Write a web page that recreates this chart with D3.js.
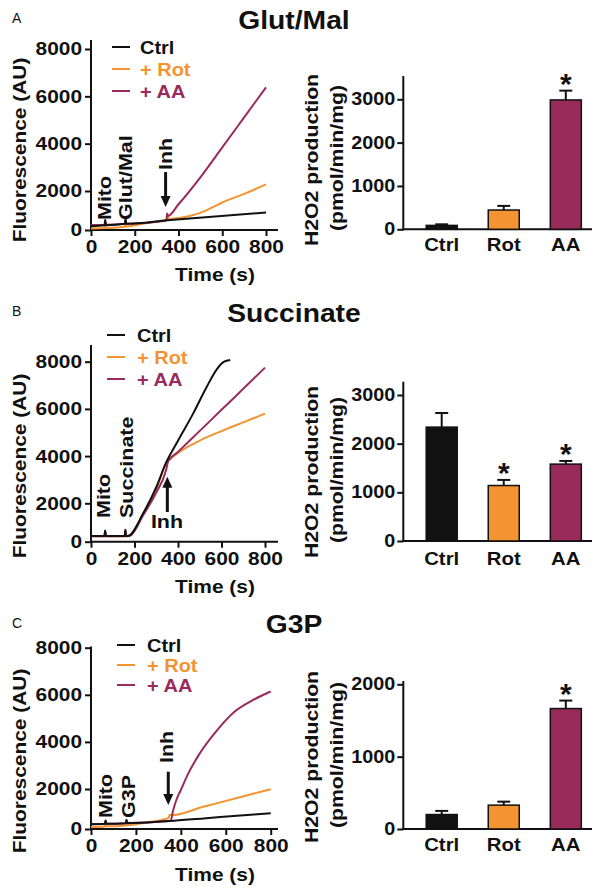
<!DOCTYPE html>
<html><head><meta charset="utf-8">
<script src="https://cdn.jsdelivr.net/npm/d3@7"></script>
<style>body{margin:0;background:#fff}</style>
</head><body>
<svg id="c" width="601" height="895"></svg>
<script>
// ---------- DATA ----------
const seriesNames = ["Ctrl", "+ Rot", "+ AA"];
const barCategories = ["Ctrl", "Rot", "AA"];
const fluorTicks = [0, 2000, 4000, 6000, 8000];
const timeTicks = [0, 200, 400, 600, 800];

// Glut/Mal traces [time s, fluorescence AU]
const glutCtrl = [[0,190],[62,240],[65,520],[68,245],[155,320],[158,620],[161,325],[350,500],[800,900]];
const glutRot  = [[0,80],[62,100],[65,330],[68,105],[155,170],[158,420],[161,180],[250,350],[345,520],[350,800],[355,560],[400,620],[450,720],[500,880],[550,1130],[600,1410],[700,1850],[800,2280]];
const glutAA   = [[0,260],[62,270],[65,450],[68,275],[155,320],[158,500],[161,325],[340,480],[345,520],[348,850],[352,720],[400,1320],[500,2580],[600,3840],[700,5110],[800,6380]];

// Succinate traces
const succCtrl = [[0,300],[62,300],[65,580],[68,300],[155,300],[158,620],[161,300],[172,310],[240,1480],[300,2680],[345,3720],[400,4650],[470,5810],[530,6900],[580,7700],[610,7990],[640,8070]];
const succRot  = [[0,290],[62,290],[65,560],[68,290],[155,290],[158,600],[161,290],[175,310],[240,1450],[300,2600],[350,3760],[370,3930],[400,4130],[450,4420],[500,4660],[600,5060],[700,5430],[800,5800]];
const succAA   = [[0,280],[62,280],[65,540],[68,280],[155,280],[158,580],[161,280],[178,300],[240,1380],[300,2450],[345,3400],[355,3780],[400,4180],[500,5070],[600,5960],[700,6850],[800,7750]];

// G3P traces
const g3pCtrl = [[0,235],[62,260],[65,420],[68,262],[155,290],[158,450],[161,292],[350,400],[500,530],[650,660],[800,790]];
const g3pRot  = [[0,100],[62,130],[65,330],[68,135],[155,180],[158,380],[161,190],[250,330],[320,470],[345,560],[350,700],[358,690],[500,1110],[650,1550],[800,1990]];
const g3pAA   = [[0,250],[62,262],[65,430],[68,265],[155,290],[158,460],[161,295],[345,400],[355,420],[365,900],[380,1450],[400,1950],[430,2600],[480,3450],[560,4480],[640,5290],[720,5770],[800,6140]];

// H2O2 production bars (pmol/min/mg)
const glutMeans = [90, 445, 2985];
const glutSem   = [25, 95, 215];
const glutSig   = [false, false, true];
const succMeans = [2340, 1140, 1580];
const succSem   = [290, 115, 65];
const succSig   = [false, true, true];
const g3pMeans  = [200, 330, 1665];
const g3pSem    = [50, 48, 110];
const g3pSig    = [false, false, true];
const barTicksA = [0, 1000, 2000, 3000];
const barTicksB = [0, 1000, 2000, 3000];
const barTicksC = [0, 1000, 2000];

// ---------- STYLE / LAYOUT ----------
const COLORS = ["#111111", "#F39331", "#992B5B"];
const FONT = '"Liberation Sans", Arial, Helvetica, sans-serif';
const K = 1.13;
const fmt = d3.format("d");

const panels = [
  { letter:"A", letterY:23, title:"Glut/Mal", titleY:29,
    series:[glutCtrl, glutRot, glutAA],
    lx:[91,266], ly:[230,191,49], lTop:40, lRight:278, fluorY:150, timeY:281,
    legend:{x1:112,x2:130,tx:140,y0:47,dy:22},
    annots:[{s:"Mito",x:111,y:220,rot:true},{s:"Glut/Mal",x:132,y:220,rot:true},{s:"Inh",x:172,y:170,rot:true}],
    arrow:{t:341, from:2800, to:1180},
    means:glutMeans, sem:glutSem, sig:glutSig, bTicks:barTicksA, bMax:3000,
    by:[229.3,99.3], bTop:76, h2oY:160, catY:251 },
  { letter:"B", letterY:316, title:"Succinate", titleY:322,
    series:[succCtrl, succRot, succAA],
    lx:[91,265], ly:[541.7,503.3,361.7], lTop:345, lRight:278, fluorY:466, timeY:593,
    legend:{x1:107,x2:125,tx:137,y0:335,dy:22},
    annots:[{s:"Mito",x:110,y:518,rot:true},{s:"Succinate",x:133,y:518,rot:true},{s:"Inh",x:167,y:528,rot:false}],
    arrow:{t:351, from:1547, to:3127},
    means:succMeans, sem:succSem, sig:succSig, bTicks:barTicksB, bMax:3000,
    by:[541,395], bTop:381.7, h2oY:472, catY:565 },
  { letter:"C", letterY:628, title:"G3P", titleY:633,
    series:[g3pCtrl, g3pRot, g3pAA],
    lx:[91,270.7], ly:[829,789,647.7], lTop:646.5, lRight:278, fluorY:761, timeY:881,
    legend:{x1:117,x2:135,tx:147,y0:645,dy:20},
    annots:[{s:"Mito",x:112,y:818,rot:true},{s:"G3P",x:135,y:818,rot:true},{s:"Inh",x:173,y:763,rot:true}],
    arrow:{t:344, from:2735, to:1200},
    means:g3pMeans, sem:g3pSem, sig:g3pSig, bTicks:barTicksC, bMax:2000,
    by:[829,684.3], bTop:681, h2oY:757, catY:851 }
];

const svg = d3.select("#c");
svg.append("rect").attr("width",601).attr("height",895).attr("fill","#fff");

function stretch(sel, k){
  k = k || K;
  sel.each(function(){
    const L = this.getComputedTextLength();
    if (L > 0) { this.setAttribute("textLength", L*k); this.setAttribute("lengthAdjust","spacingAndGlyphs"); }
  });
  return sel;
}
function text(g, s, x, y, size, o){
  o = o || {};
  const t = g.append("text")
    .attr("font-family", FONT).attr("font-weight", o.weight || "bold")
    .attr("font-size", size).attr("fill", o.fill || "#111")
    .attr("text-anchor", o.anchor || "start")
    .text(s);
  if (o.rot) t.attr("transform", `translate(${x},${y}) rotate(-90)`);
  else t.attr("x", x).attr("y", y);
  if (o.k !== 0) stretch(t, o.k);
  return t;
}

panels.forEach(p => {
  const g = svg.append("g");
  text(g, p.letter, 12, p.letterY, 14, {weight:"normal", k:0});
  text(g, p.title, 294, p.titleY, 25, {anchor:"middle"});

  // ---- time course ----
  const x = d3.scaleLinear().domain([0, 800]).range(p.lx);
  const y = d3.scaleLinear().domain([0, 2000, 8000]).range(p.ly);

  const ya = g.append("g").attr("transform", `translate(${p.lx[0]},0)`)
    .call(d3.axisLeft(y).tickValues(fluorTicks).tickFormat(fmt).tickSize(6).tickPadding(3).tickSizeOuter(0));
  ya.select(".domain").remove();
  ya.attr("font-family", FONT).attr("font-size", 18.5).attr("font-weight","bold");
  ya.selectAll(".tick line").attr("stroke","#111").attr("stroke-width",2);
  ya.selectAll(".tick text").attr("fill","#111").call(s => stretch(s));
  g.append("line").attr("x1",p.lx[0]).attr("x2",p.lx[0]).attr("y1",p.lTop).attr("y2",p.ly[0]+1)
    .attr("stroke","#111").attr("stroke-width",2);

  const xa = g.append("g").attr("transform", `translate(0,${p.ly[0]})`)
    .call(d3.axisBottom(x).tickValues(timeTicks).tickFormat(fmt).tickSize(6).tickPadding(4).tickSizeOuter(0));
  xa.select(".domain").remove();
  xa.attr("font-family", FONT).attr("font-size", 18.5).attr("font-weight","bold");
  xa.selectAll(".tick line").attr("stroke","#111").attr("stroke-width",2);
  xa.selectAll(".tick text").attr("fill","#111").call(s => stretch(s));
  g.append("line").attr("x1",p.lx[0]-1).attr("x2",p.lRight).attr("y1",p.ly[0]).attr("y2",p.ly[0])
    .attr("stroke","#111").attr("stroke-width",2);

  text(g, "Fluorescence (AU)", 26, p.fluorY, 18.5, {rot:true, anchor:"middle"});
  text(g, "Time (s)", 215, p.timeY, 18.5, {anchor:"middle"});

  const line = d3.line().x(d => x(d[0])).y(d => y(d[1])).curve(d3.curveMonotoneX);
  [1, 2, 0].forEach(i => {
    g.append("path").attr("d", line(p.series[i])).attr("fill","none")
      .attr("stroke", COLORS[i]).attr("stroke-width", 2).attr("stroke-linejoin","round");
  });

  seriesNames.forEach((n, i) => {
    const ly = p.legend.y0 + i*p.legend.dy;
    g.append("line").attr("x1",p.legend.x1).attr("x2",p.legend.x2).attr("y1",ly).attr("y2",ly)
      .attr("stroke",COLORS[i]).attr("stroke-width",2);
    text(g, n, p.legend.tx, ly + 6.5, 17.7, {fill: COLORS[i]});
  });

  p.annots.forEach(a => {
    text(g, a.s, a.x, a.y, 19, {rot:a.rot, anchor: a.rot ? "start" : "middle"});
  });
  const ax = x(p.arrow.t), y1 = y(p.arrow.from), y2 = y(p.arrow.to);
  const dir = y2 > y1 ? 1 : -1;
  g.append("line").attr("x1",ax).attr("x2",ax).attr("y1",y1).attr("y2",y2 - dir*9)
    .attr("stroke","#111").attr("stroke-width",3);
  g.append("path").attr("d", `M${ax-5},${y2-dir*11}L${ax+5},${y2-dir*11}L${ax},${y2}Z`).attr("fill","#111");

  // ---- bar chart ----
  const by = d3.scaleLinear().domain([0, p.bMax]).range(p.by);
  const bx = d3.scalePoint().domain(barCategories).range([441.7, 565.8]);
  const bw = 31;

  const bya = g.append("g").attr("transform","translate(403.3,0)")
    .call(d3.axisLeft(by).tickValues(p.bTicks).tickFormat(fmt).tickSize(6).tickPadding(2).tickSizeOuter(0));
  bya.select(".domain").remove();
  bya.attr("font-family", FONT).attr("font-size", 17.5).attr("font-weight","bold");
  bya.selectAll(".tick line").attr("stroke","#111").attr("stroke-width",2);
  bya.selectAll(".tick text").attr("fill","#111").call(s => stretch(s));
  g.append("line").attr("x1",403.3).attr("x2",403.3).attr("y1",p.bTop).attr("y2",p.by[0]+1)
    .attr("stroke","#111").attr("stroke-width",2);
  g.append("line").attr("x1",402.3).attr("x2",592).attr("y1",p.by[0]).attr("y2",p.by[0])
    .attr("stroke","#111").attr("stroke-width",2);

  barCategories.forEach((c, i) => {
    const cx = bx(c);
    const top = by(p.means[i]), errTop = by(p.means[i] + p.sem[i]);
    g.append("line").attr("x1",cx).attr("x2",cx).attr("y1",top).attr("y2",errTop)
      .attr("stroke","#111").attr("stroke-width",2);
    g.append("line").attr("x1",cx-6.5).attr("x2",cx+6.5).attr("y1",errTop).attr("y2",errTop)
      .attr("stroke","#111").attr("stroke-width",2);
    g.append("rect").attr("x",cx-bw/2).attr("y",top).attr("width",bw).attr("height",Math.max(0,p.by[0]-top))
      .attr("fill",COLORS[i]).attr("stroke","#111").attr("stroke-width",1.5);
    if (p.sig[i]) text(g, "*", cx, errTop + 3, 30, {anchor:"middle", k:0});
    text(g, c, cx, p.catY, 18, {anchor:"middle"});
  });

  text(g, "H2O2 production", 318, p.h2oY, 18.8, {rot:true, anchor:"middle"});
  text(g, "(pmol/min/mg)", 343, p.h2oY - 2, 18.8, {rot:true, anchor:"middle"});
});
</script>
</body></html>
